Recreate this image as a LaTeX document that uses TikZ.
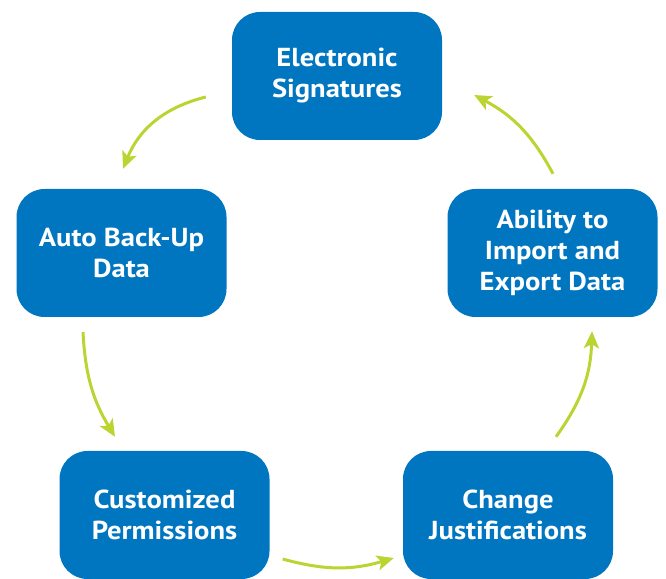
\documentclass[tikz,border=0pt]{standalone}
\usepackage{fontspec}
\setmainfont{PT Sans}[FakeStretch=1.1]
\usetikzlibrary{arrows.meta}
\definecolor{boxblue}{RGB}{0,117,192}
\definecolor{arrowgreen}{RGB}{188,212,50}
\tikzset{
 featurebox/.style={draw=none,fill=boxblue,rounded corners=28pt,minimum width=210pt,minimum height=128pt,
  text=white,font=\fontsize{26}{31}\selectfont\bfseries,align=center,inner sep=0pt},
 cycleflow/.style={draw=arrowgreen,line width=3pt,-{Stealth[length=17pt,width=15pt,inset=4pt]}}
}
\begin{document}
\begin{tikzpicture}[x=1pt,y=1pt]
 \useasboundingbox (0,0) rectangle (666,578);
 \node[featurebox] (esig) at (337,502) {Electronic\\Signatures};
 \node[featurebox] (backup) at (121.5,325) {Auto Back-Up\\Data};
 \node[featurebox] (impexp) at (552.5,325) {Ability to\\Import and\\Export Data};
 \node[featurebox] (perm) at (164.5,63) {Customized\\Permissions};
 \node[featurebox] (justif) at (508,63) {Change\\Justifications};
 \draw[cycleflow] ([xshift=-26pt,yshift=-21pt]esig.west) to[bend right=27] ([xshift=1.5pt,yshift=20pt]backup.north);
 \draw[cycleflow] ([xshift=-38.5pt,yshift=-15pt]backup.south) to[bend right=14] ([xshift=-49.5pt,yshift=14pt]perm.north);
 \draw[cycleflow] ([xshift=13pt,yshift=-44pt]perm.east) to[bend right=16] ([xshift=-9pt,yshift=-43pt]justif.west);
 \draw[cycleflow] ([xshift=48pt,yshift=14pt]justif.north) to[bend right=17] ([xshift=39.5pt,yshift=-14pt]impexp.south);
 \draw[cycleflow] ([xshift=0.5pt,yshift=15pt]impexp.north) to[bend right=17] ([xshift=32pt,yshift=-19pt]esig.east);
\end{tikzpicture}
\end{document}
